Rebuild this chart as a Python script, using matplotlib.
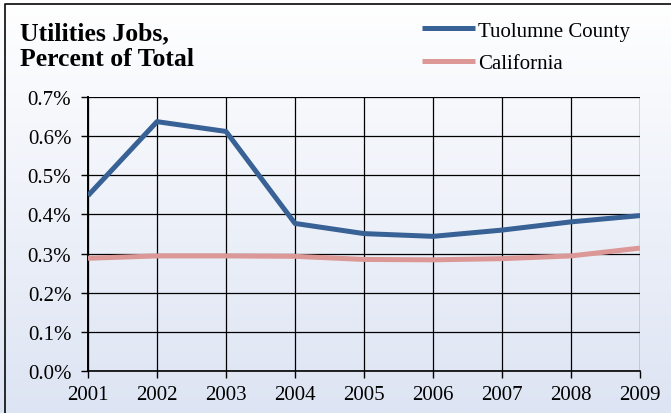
import numpy as np
import matplotlib
matplotlib.use("Agg")
import matplotlib.pyplot as plt
from matplotlib.colors import LinearSegmentedColormap

# values (percent)
years = [2001, 2002, 2003, 2004, 2005, 2006, 2007, 2008, 2009]
tuolumne = [0.448, 0.637, 0.612, 0.377, 0.351, 0.344, 0.360, 0.381, 0.397]
california = [0.288, 0.294, 0.294, 0.293, 0.285, 0.284, 0.287, 0.294, 0.314]
yticks = [0.0, 0.1, 0.2, 0.3, 0.4, 0.5, 0.6, 0.7]
title = "Utilities Jobs,\nPercent of Total"

plt.rcParams['font.family'] = ['Liberation Serif', 'DejaVu Serif']

fig = plt.figure(figsize=(6.71, 4.14), dpi=100)

# gradient background + frame
bg = fig.add_axes([0, 0, 1, 1], zorder=-10)
grad = np.linspace(0, 1, 256).reshape(-1, 1)
cmap = LinearSegmentedColormap.from_list("bg", ["#ffffff", "#dde4f3"])
bg.imshow(grad, aspect="auto", cmap=cmap, extent=[0, 1, 0, 1], origin="upper")
bg.set_xlim(0, 1)
bg.set_ylim(0, 1)
bg.plot([5 / 671, 5 / 671, 1.01], [-0.01, 1 - 5 / 414, 1 - 5 / 414], color="#1a1a1a", lw=1.3)
bg.axis("off")

ax = fig.add_axes([88 / 671, 1 - 372 / 414, (640 - 88) / 671, (372 - 98) / 414])
ax.patch.set_alpha(0)

ax.plot(years, tuolumne, color="#386195", lw=3.6, solid_capstyle="butt", label="Tuolumne County", zorder=3)
ax.plot(years, california, color="#dc9896", lw=3.6, solid_capstyle="butt", label="California", zorder=3)

ax.set_xlim(years[0], years[-1])
ax.set_ylim(0, 0.7)
ax.set_xticks(years)
ax.set_xticklabels([str(y) for y in years])
ax.set_yticks(yticks)
ax.set_yticklabels(["%.1f%%" % v for v in yticks])
ax.grid(True, color="#000000", lw=0.9, zorder=1)
ax.set_axisbelow(True)
for s in ["top", "right"]:
    ax.spines[s].set_visible(False)
ax.spines["left"].set_linewidth(1.4)
ax.spines["bottom"].set_linewidth(1.2)
ax.tick_params(axis="both", labelsize=15, direction="out", length=5, width=1, colors="#000000")
ax.tick_params(axis="x", pad=5)
ax.tick_params(axis="y", pad=7)

fig.text(20 / 671, 1 - 22 / 414, title, fontsize=18.5, fontweight="bold", va="top", ha="left",
         linespacing=1.18)

leg = fig.legend(loc="upper left", bbox_to_anchor=(422 / 671, 1 - 22 / 414), frameon=False, fontsize=15,
                 handlelength=2.55, handletextpad=0.15, labelspacing=0.62, borderaxespad=0, borderpad=0)

fig.savefig("out.png", dpi=100)
